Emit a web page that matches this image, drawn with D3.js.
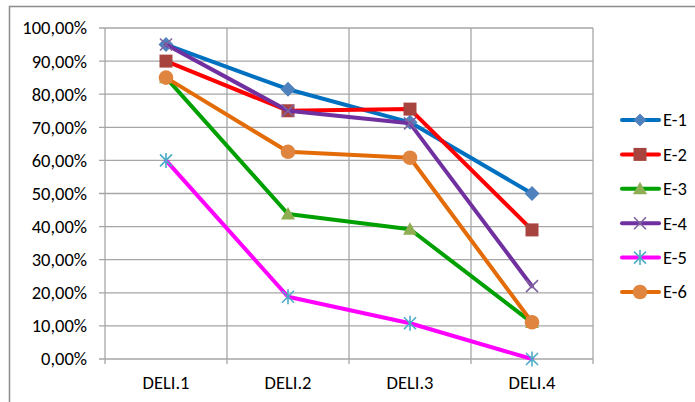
<!DOCTYPE html>
<html>
<head>
<meta charset="utf-8">
<script src="https://cdn.jsdelivr.net/npm/d3@7"></script>
<style>
  html, body { margin: 0; padding: 0; background: #fff; }
  svg { display: block; }
  text { font-family: Carlito, Calibri, Lato, "Open Sans", sans-serif; fill: #000; }
</style>
</head>
<body>
<svg id="chart" width="695" height="402"></svg>
<script>
// Categories along the x axis
const categories = ["DELI.1", "DELI.2", "DELI.3", "DELI.4"];

// Series values (fractions of 1)
const e1 = [0.95, 0.815, 0.715, 0.50];
const e2 = [0.90, 0.75, 0.755, 0.39];
const e3 = [0.85, 0.438, 0.392, 0.11];
const e4 = [0.95, 0.75, 0.712, 0.22];
const e5 = [0.60, 0.188, 0.108, 0.0];
const e6 = [0.85, 0.626, 0.608, 0.111];

const seriesNames = ["E-1", "E-2", "E-3", "E-4", "E-5", "E-6"];
const yTicks = [0, 0.1, 0.2, 0.3, 0.4, 0.5, 0.6, 0.7, 0.8, 0.9, 1.0];

const styles = {
  "E-1": { line: "#0070C0", fill: "#4F81BD", shape: "diamond" },
  "E-2": { line: "#FF0000", fill: "#A8443F", shape: "square" },
  "E-3": { line: "#00A000", fill: "#8FAE51", shape: "triangle" },
  "E-4": { line: "#7030A0", fill: "#8064A2", shape: "x" },
  "E-5": { line: "#FF00FF", fill: "#4BACC6", shape: "star" },
  "E-6": { line: "#E36C09", fill: "#E0853F", shape: "circle" }
};

const series = [e1, e2, e3, e4, e5, e6].map((v, i) => ({ name: seriesNames[i], values: v }));

const svg = d3.select("#chart");
const margin = { left: 105, top: 28, right: 102, bottom: 43 };
const W = 695, H = 402;
const fontSize = 18.5;

// Outer chart border
svg.append("rect")
  .attr("x", 9.5).attr("y", 6.5)
  .attr("width", 700).attr("height", 420)
  .attr("fill", "none").attr("stroke", "#8C8C8C").attr("stroke-width", 1.5);

const x = d3.scaleBand().domain(categories).range([margin.left, W - margin.right]).padding(0);
const y = d3.scaleLinear().domain([0, 1]).range([H - margin.bottom, margin.top]);

const grid = svg.append("g");
const gridColor = "#A6A6A6";

// Horizontal gridlines
grid.selectAll("line.h").data(yTicks).join("line")
  .attr("x1", margin.left - 6).attr("x2", W - margin.right)
  .attr("y1", d => y(d)).attr("y2", d => y(d))
  .attr("stroke", gridColor).attr("stroke-width", 1.3);

// Vertical gridlines at category boundaries
const bounds = categories.map(c => x(c)).concat([x(categories[categories.length - 1]) + x.bandwidth()]);
grid.selectAll("line.v").data(bounds).join("line")
  .attr("x1", d => d).attr("x2", d => d)
  .attr("y1", margin.top).attr("y2", y(0) + 5)
  .attr("stroke", gridColor).attr("stroke-width", 1.3);

// Y axis labels
const fmt = d => d3.format(".2f")(d * 100).replace(".", ",") + "%";
svg.append("g").selectAll("text").data(yTicks).join("text")
  .attr("x", 87).attr("y", d => y(d))
  .attr("dy", "0.35em")
  .attr("text-anchor", "end")
  .attr("font-size", fontSize)
  .text(fmt);

// X axis labels
svg.append("g").selectAll("text").data(categories).join("text")
  .attr("x", d => x(d) + x.bandwidth() / 2).attr("y", 383)
  .attr("dy", "0.35em")
  .attr("text-anchor", "middle")
  .attr("font-size", fontSize)
  .text(d => d);

const cx = c => x(c) + x.bandwidth() / 2;
const lineGen = d3.line().x((d, i) => cx(categories[i])).y(d => y(d));

function drawMarker(g, shape, px, py, st, s) {
  const m = g.append("g").attr("transform", `translate(${px},${py})`);
  if (shape === "diamond") {
    m.append("path").attr("d", `M0,${-s}L${s},0L0,${s}L${-s},0Z`).attr("fill", st.fill);
  } else if (shape === "square") {
    m.append("rect").attr("x", -6.5).attr("y", -6.5).attr("width", 13).attr("height", 13).attr("fill", st.fill);
  } else if (shape === "triangle") {
    m.append("path").attr("d", "M0,-7L7,5.5L-7,5.5Z").attr("fill", st.fill);
  } else if (shape === "x") {
    m.append("path").attr("d", "M-6,-6L6,6M-6,6L6,-6").attr("stroke", st.fill).attr("stroke-width", 1.6);
  } else if (shape === "star") {
    m.append("path").attr("d", "M-6,-6L6,6M-6,6L6,-6M0,-7.5L0,7.5").attr("stroke", st.fill).attr("stroke-width", 1.6);
  } else if (shape === "circle") {
    m.append("circle").attr("r", 7.3).attr("fill", st.fill);
  }
}

// Series lines and markers
const plot = svg.append("g");
series.forEach(s => {
  const st = styles[s.name];
  const g = plot.append("g");
  g.append("path").attr("d", lineGen(s.values))
    .attr("fill", "none").attr("stroke", st.line).attr("stroke-width", 4)
    .attr("stroke-linejoin", "round").attr("stroke-linecap", "round");
  s.values.forEach((v, i) => drawMarker(g, st.shape, cx(categories[i]), y(v), st, 7.5));
});

// Legend
const legend = svg.append("g");
series.forEach((s, i) => {
  const st = styles[s.name];
  const ly = 120 + i * 34.4;
  const g = legend.append("g");
  g.append("line").attr("x1", 622).attr("x2", 659).attr("y1", ly).attr("y2", ly)
    .attr("stroke", st.line).attr("stroke-width", 4).attr("stroke-linecap", "round");
  drawMarker(g, st.shape, 640, ly, st, 6.5);
  g.append("text").attr("x", 663).attr("y", ly).attr("dy", "0.35em")
    .attr("font-size", fontSize).text(s.name);
});
</script>
</body>
</html>
